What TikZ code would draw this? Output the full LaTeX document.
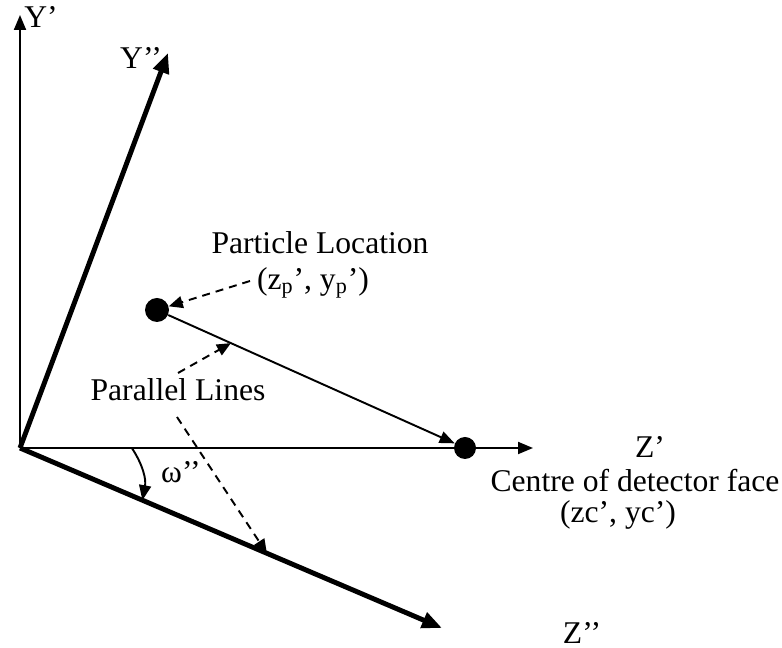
\documentclass[tikz,border=0pt]{standalone}
\usepackage{fontspec}
\setmainfont{Liberation Serif}
\usetikzlibrary{arrows.meta,calc,positioning}

\begin{document}
\begin{tikzpicture}[
      x=1cm,y=1cm,
      font=\fontsize{18}{21}\selectfont,
      axis/.style={-{Triangle[length=3mm,width=2.4mm]},line width=1.1pt},
      rotaxis/.style={-{Triangle[length=4mm,width=3.2mm]},line width=2.8pt},
      pointer/.style={-{Triangle[length=2.8mm,width=2.4mm]},line width=1.1pt,
        dash pattern=on 1.6mm off 1.2mm},
      spot/.style={circle,fill=black,inner sep=0pt,minimum size=#1},
      lbl/.style={inner sep=1pt,align=center}
    ]
      \useasboundingbox (0,0) rectangle (15.64,12.96);

      \coordinate (o) at (0.40,4.00);
      \coordinate (ytip) at (0.40,12.66);
      \coordinate (yytip) at (3.36,11.90);
      \coordinate (ztip) at (10.66,4.00);
      \coordinate (zztip) at (8.84,0.40);

      % axes
      \draw[axis] (o) -- (ytip);
      \draw[axis] (o) -- (ztip);
      \draw[rotaxis,line join=miter] (o) -- (yytip);
      \draw[rotaxis] (o) -- (zztip);

      \node[lbl] (ylab) at (0.82,12.62) {Y’};
      \node[lbl] (yylab) at (2.82,11.80) {Y’’};
      \node[lbl] (zlab) at (13.00,4.02) {Z’};
      \node[lbl] (zzlab) at (11.64,0.30) {Z’’};

      % points
      \node[spot=4.4mm] (ctr) at (9.30,4.00) {};
      \node[spot=4.8mm] (part) at (3.14,6.76) {};
      \draw[axis] (part) -- (ctr);

      \node[lbl,font=\fontsize{18}{17.6}\selectfont] (ctrlab) at (12.70,2.97)
        {Centre of detector face\\(zc’, yc’)\hspace*{0.68cm}};
      \node[lbl] (partlab) at (6.40,8.10) {Particle Location};
      \node[lbl] (partpos) at (6.26,7.30) {(z\textsubscript{p}’, y\textsubscript{p}’)};

      % angle between the two frames
      \coordinate (w1) at ($(o)!0.218!(ztip)$);
      \coordinate (w2) at ($(o)!0.29!(zztip)$);
      \draw[axis] (w1) to[bend left=22] (w2);
      \node[lbl] (wlab) at (3.62,3.52) {ω’’};

      % parallel lines
      \node[lbl] (parlab) at (3.56,5.16) {Parallel Lines};
      \coordinate (p1) at ($(part)!0.24!(ctr)$);
      \coordinate (p2) at ($(o)!0.585!(zztip)$);
      \draw[pointer] (5.00,7.34) -- (part);
      \draw[pointer] (3.56,5.50) -- (p1);
      \draw[pointer] (3.54,4.62) -- (p2);
    \end{tikzpicture}
\end{document}
